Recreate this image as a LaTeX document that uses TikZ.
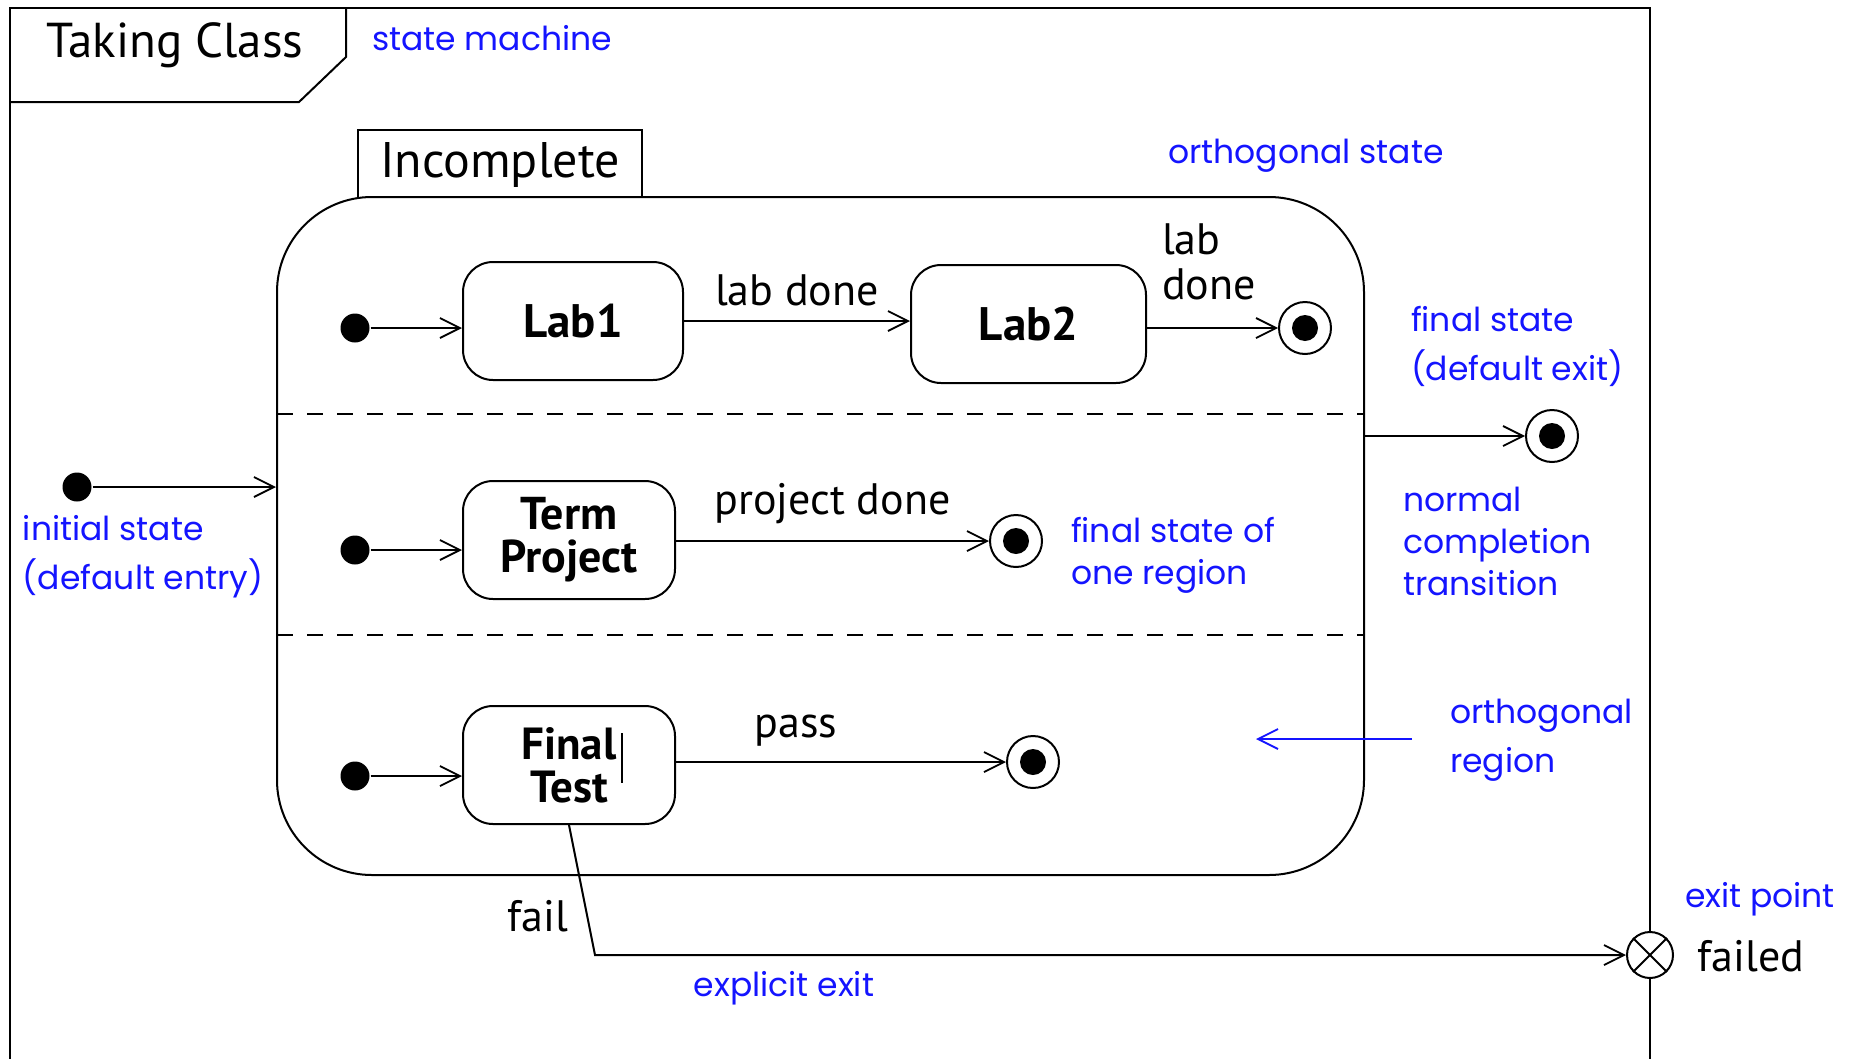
\documentclass[tikz,border=0pt]{standalone}
\usepackage{fontspec}
\setmainfont{PT Sans}
\newfontfamily\bluefont{Poppins}
\usetikzlibrary{arrows.meta}
\definecolor{noteblue}{RGB}{20,20,255}
\begin{document}
\begin{tikzpicture}[x=1pt,y=-1pt,line width=2pt,
  tr/.style={-{Straight Barb[length=20pt,width=20pt,line width=1.8pt]}},
  simple/.style={draw,rounded corners=30pt,minimum width=212pt,minimum height=118pt,inner sep=0pt,align=center,font=\fontsize{46}{43}\selectfont\bfseries},
  initdot/.style={circle,fill=black,minimum size=29pt,inner sep=0pt},
  finalst/.style={circle,draw,fill=white,minimum size=52pt,inner sep=0pt,path picture={\fill[black] (path picture bounding box.center) circle (13pt);}},
  note/.style={text=noteblue,font=\bluefont\fontsize{33}{42}\selectfont,align=left,inner sep=0pt},
  lbl/.style={font=\fontsize{44}{45}\selectfont,inner sep=0pt,align=left}]
\useasboundingbox (0,0) rectangle (1858,1058);
% frame
\draw (9.5,1070) -- (9.5,8) -- (1650,8) -- (1650,1070);
\draw (9.5,102) -- (299,102) -- (346,57) -- (346,8);
\node[font=\fontsize{49}{52}\selectfont,inner sep=0pt] (title) at (175,45) {Taking Class};
\node[note,anchor=west] (nsm) at (371,38) {state machine};
% composite state
\draw (358,197) -- (358,130) -- (642,130) -- (642,197);
\node[font=\fontsize{50}{52}\selectfont,inner sep=0pt] (inc) at (500,165) {Incomplete};
\node[draw,fill=none,rounded corners=95pt,minimum width=1087pt,minimum height=678pt,inner sep=0pt] (comp) at (820.5,536) {};
\draw[dashed,dash pattern=on 16pt off 14pt] (277,414) -- (1364,414);
\draw[dashed,dash pattern=on 16pt off 14pt] (277,635) -- (1364,635);
\node[note,anchor=west] (nos) at (1167,156) {orthogonal state};
% region 1
\node[initdot] (i1) at (355,328) {};
\node[simple,minimum width=220pt,font=\fontsize{47}{43}\selectfont\bfseries] (lab1) at (573,321) {Lab1};
\node[simple,minimum width=235pt,font=\fontsize{47}{43}\selectfont\bfseries] (lab2) at (1028.5,324) {Lab2};
\node[finalst] (f1) at (1305,328) {};
\draw[tr] (i1) -- (i1 -| lab1.west);
\draw[tr] (lab1.east) -- (lab1.east -| lab2.west) node[lbl,midway,above=14pt] (l1) {lab done};
\draw[tr] (lab2.east |- f1) -- (f1);
\node[lbl,anchor=west] (l2) at (1161,262) {lab\\done};
% region 2
\node[initdot] (i2) at (355,550) {};
\node[simple] (tp) at (569,540) {Term\\Project};
\node[finalst] (f2) at (1016,541) {};
\draw[tr] (i2) -- (i2 -| tp.west);
\draw[tr] (tp.east |- f2) -- (f2) node[lbl,midway,above=16pt] (l3) {project done};
\node[note,anchor=west] (nfr) at (1070,555) {final state of\\one region};
% region 3
\node[initdot] (i3) at (355,776) {};
\node[simple,font=\fontsize{45}{43}\selectfont\bfseries] (ft) at (569,765) {Final\\Test};
\draw[line width=1.5pt] (622,733) -- (622,783);
\node[finalst] (f3) at (1033,762) {};
\draw[tr] (i3) -- (i3 -| ft.west);
\draw[tr] (ft.east |- f3) -- (f3);
\node[lbl] (l4) at (796,731) {pass};
\coordinate (oa) at (1412,739);
\coordinate (ob) at (1256,739);
\draw[tr,draw=noteblue] (oa) -- (ob);
\node[note,anchor=west,font=\bluefont\fontsize{33}{49}\selectfont] (nor) at (1449,740) {orthogonal\\region};
% outside
\node[initdot] (i0) at (77,487) {};
\draw[tr] (i0) -- (i0 -| comp.west);
\node[note,anchor=west,font=\bluefont\fontsize{33}{49}\selectfont] (nis) at (22,557) {initial state\\(default entry)};
\node[finalst] (f0) at (1552,436) {};
\draw[tr] (comp.east |- f0) -- (f0);
\node[note,anchor=west,font=\bluefont\fontsize{33}{49}\selectfont] (nfs) at (1410,346) {final state\\(default exit)};
\node[note,anchor=west] (nnc) at (1402,541) {normal\\completion\\transition};
% exit point
\node[circle,draw,fill=white,minimum size=46pt,inner sep=0pt] (ex) at (1650,955) {};
\draw (ex.north east) -- (ex.south west);
\draw (ex.north west) -- (ex.south east);
\coordinate (bend) at (595,955);
\draw[tr] (ft.south) -- (bend) -- (ex);
\node[lbl] (l5) at (538,916) {fail};
\node[note] (nee) at (784,988) {explicit exit};
\node[note] (nep) at (1760,899) {exit point};
\node[lbl] (l6) at (1751,956) {failed};
\end{tikzpicture}
\end{document}
